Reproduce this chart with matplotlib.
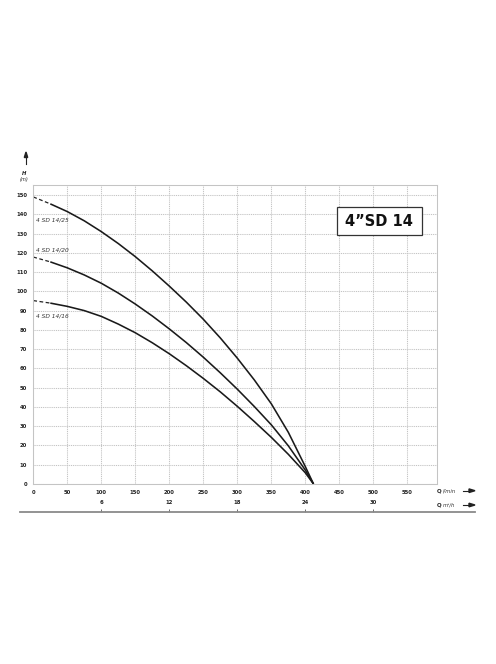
import matplotlib
matplotlib.use("Agg")
import matplotlib.pyplot as plt
from matplotlib.patches import Rectangle, Polygon

W, H_PX = 496, 664

# ---------------- data ----------------
q_lmin = [0, 25, 50, 75, 100, 125, 150, 175, 200, 225, 250, 275, 300, 325, 350, 375, 400, 412]
h_14_25 = [149, 145.4, 141.4, 136.6, 131, 124.8, 118, 110.6, 102.7, 94.4, 85.5, 75.8, 65.3, 54, 41.6, 26.8, 9, 0]
h_14_20 = [117.8, 115.3, 112.2, 108.5, 104.2, 99.1, 93.4, 87.2, 80.5, 73.4, 65.8, 57.7, 49.2, 40.2, 30.7, 19.8, 7.2, 0]
h_14_16 = [95.2, 93.9, 92.2, 90, 87, 83, 78.5, 73.3, 67.6, 61.4, 54.8, 47.8, 40.3, 32.4, 24.2, 15.4, 5.8, 0]
pump_labels = ["4 SD 14/25", "4 SD 14/20", "4 SD 14/16"]
label_pos_h = [137, 121.5, 87]

x_ticks = [0, 50, 100, 150, 200, 250, 300, 350, 400, 450, 500, 550]
y_ticks = [0, 10, 20, 30, 40, 50, 60, 70, 80, 90, 100, 110, 120, 130, 140, 150]
m3h_ticks = [6, 12, 18, 24, 30]
title = "4\u201dSD 14"

# ---------------- figure ----------------
fig = plt.figure(figsize=(W / 100, H_PX / 100), dpi=100)


def fx(x):
    return x / W


def fy(y):
    return 1 - y / H_PX


ax_l, ax_r, ax_t, ax_b = 33.3, 437.3, 185, 484
ax = fig.add_axes([fx(ax_l), fy(ax_b), (ax_r - ax_l) / W, (ax_b - ax_t) / H_PX])
XMAX, YMAX = 594, 155.2
ax.set_xlim(0, XMAX)
ax.set_ylim(0, YMAX)

grid_kw = dict(color="#c4c4c4", linestyle=(0, (1, 0.8)), linewidth=0.75)
ax.set_xticks(x_ticks)
ax.set_yticks(y_ticks)
ax.grid(True, **grid_kw)
ax.set_axisbelow(True)
for s in ax.spines.values():
    s.set_color("#c4c4c4")
    s.set_linestyle((0, (1, 0.8)))
    s.set_linewidth(0.75)
ax.tick_params(length=0, labelsize=3.8, colors="#222222", pad=4.5)
for lab in ax.get_xticklabels() + ax.get_yticklabels():
    lab.set_fontweight("bold")

curves = [h_14_25, h_14_20, h_14_16]
for hv in curves:
    ax.plot(q_lmin[:2], hv[:2], color="#222222", lw=0.9, linestyle=(0, (3, 2)))
    ax.plot(q_lmin[1:], hv[1:], color="#1a1a1a", lw=1.15, solid_capstyle="butt",
            solid_joinstyle="round")

for lab, hp in zip(pump_labels, label_pos_h):
    ax.text(4, hp, lab, fontsize=4.2, style="italic", color="#333333",
            va="center", ha="left")

# title box
bx0, bx1, by0, by1 = 336.7, 421.7, 207.3, 235
fig.patches.append(Rectangle((fx(bx0), fy(by1)), (bx1 - bx0) / W, (by1 - by0) / H_PX,
                             transform=fig.transFigure, facecolor="white",
                             edgecolor="#333333", lw=0.9, zorder=5))
fig.text(fx((bx0 + bx1) / 2), fy((by0 + by1) / 2), title, fontsize=10.5,
         fontweight="bold", ha="center", va="center", color="#111111", zorder=6)

# y axis header
fig.text(fx(24), fy(173.3), "H", fontsize=3.8, fontweight="bold", style="italic",
         ha="center", va="center", color="#222222")
fig.text(fx(24), fy(179.5), "(m)", fontsize=3.6, style="italic",
         ha="center", va="center", color="#222222")
fig.add_artist(plt.Line2D([fx(26), fx(26)], [fy(164), fy(155)], color="#222222", lw=0.8,
                          transform=fig.transFigure))
fig.patches.append(Polygon(
    [(fx(24.3), fy(157.5)), (fx(27.7), fy(157.5)), (fx(26), fy(152))],
    closed=True, transform=fig.transFigure, color="#222222"))

# second axis (m3/h)
sx0, sx1, sy = 20, 475, 511.7
scale = (ax_r - ax_l) / XMAX
ax2 = fig.add_axes([fx(sx0), fy(sy), (sx1 - sx0) / W, 0.0001])
ax2.set_xlim((sx0 - ax_l) / scale, (sx1 - ax_l) / scale)
ax2.set_ylim(0, 1)
ax2.set_facecolor("none")
for k in ("top", "left", "right"):
    ax2.spines[k].set_visible(False)
ax2.spines["bottom"].set_color("#8a8a8a")
ax2.spines["bottom"].set_linewidth(1.3)
ax2.set_yticks([])
ax2.set_xticks([v * 1000 / 60 for v in m3h_ticks])
ax2.set_xticklabels([str(v) for v in m3h_ticks])
ax2.tick_params(axis="x", direction="in", length=2.2, width=0.6, colors="#555555",
                labelsize=3.8, pad=4.5, labelcolor="#222222", labelbottom=False,
                labeltop=True, top=False, bottom=True)
for lab in ax2.get_xticklabels():
    lab.set_fontweight("bold")

# axis unit labels with arrows
for yy, unit in [(490.7, "l/min"), (505, "m\u00b3/h")]:
    fig.text(fx(437), fy(yy), "Q", fontsize=4, fontweight="bold", ha="left",
             va="center", color="#222222")
    fig.text(fx(443), fy(yy), unit, fontsize=3.8, style="italic", ha="left",
             va="center", color="#333333")
    fig.add_artist(plt.Line2D([fx(463), fx(470)], [fy(yy), fy(yy)], color="#222222",
                              lw=0.8, transform=fig.transFigure))
    fig.patches.append(Polygon(
        [(fx(469), fy(yy - 1.8)), (fx(469), fy(yy + 1.8)), (fx(475), fy(yy))],
        closed=True, transform=fig.transFigure, color="#222222"))

fig.savefig("out.png", dpi=100)
